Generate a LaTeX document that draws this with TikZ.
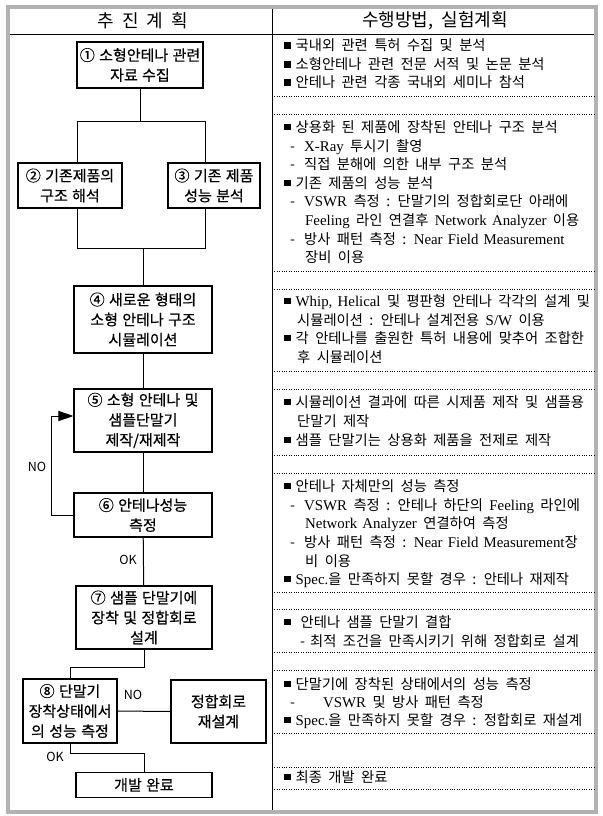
\documentclass[tikz,border=0pt]{standalone}
\usepackage{fontspec}
\setmainfont{Noto Sans CJK KR}[WordSpace=2]
\newfontfamily\boxf{Noto Sans CJK KR}[FakeBold=0.5,WordSpace=1.3]
\newfontfamily\lat{Liberation Serif}[Scale=1.04,WordSpace=1.4]
\usetikzlibrary{arrows.meta}
\newcommand\bul{\rule[2pt]{6.5pt}{6.5pt}\hspace{5pt}}
\newcommand\dsh{-\hspace{9pt}}
\tikzset{
 box/.style={draw, line width=1.1pt, align=center, inner sep=0pt, font=\boxf\fontsize{15}{20}\selectfont},
 conn/.style={line width=1pt},
 rt/.style={anchor=base west, inner sep=0pt, font=\fontsize{14.3}{16}\selectfont},
 lbl/.style={inner sep=0pt, font=\fontsize{12.5}{14}\selectfont},
 sepl/.style={line width=0.6pt, dash pattern=on 0.8pt off 1.6pt},
 hdr/.style={inner sep=0pt, font=\fontsize{18}{20}\selectfont},
}
\begin{document}
\begin{tikzpicture}[x=1pt,y=-1pt]
\useasboundingbox (0,0) rectangle (602,816);
% frame
\draw[line width=4pt, gray!60] (8,7) rectangle (596,812);
\draw[line width=0.8pt] (10,34) -- (594,34);
\draw[line width=0.8pt] (272,9) -- (272,810);
\node[hdr] (h1) at (143,21) {추\hspace{8pt}진\hspace{8pt}계\hspace{8pt}획};
\node[hdr] (h2) at (435,21) {수행방법, 실험계획};

% left flow
\node[box, minimum width=126pt, minimum height=46pt] (n1) at (140,65) {① 소형안테나 관련\\자료 수집};
\node[box, minimum width=104pt, minimum height=45pt] (n2) at (70,185.5) {② 기존제품의\\구조 해석};
\node[box, minimum width=92pt, minimum height=45pt] (n3) at (214,185.5) {③ 기존 제품\\성능 분석};
\node[box, minimum width=138pt, minimum height=67pt] (n4) at (143,319.5) {④ 새로운 형태의\\소형 안테나 구조\\시뮬레이션};
\node[box, minimum width=138pt, minimum height=63pt] (n5) at (143,420.5) {⑤ 소형 안테나 및\\샘플단말기\\제작/재제작};
\node[box, minimum width=138pt, minimum height=44pt] (n6) at (143,515) {⑥ 안테나성능\\측정};
\node[box, minimum width=136pt, minimum height=63pt] (n7) at (144,617.5) {⑦ 샘플 단말기에\\장착 및 정합회로\\설계};
\node[box, minimum width=94pt, minimum height=64pt] (n8) at (70,711) {⑧ 단말기\\장착상태에서\\의 성능 측정};
\node[box, minimum width=95pt, minimum height=63pt] (n9) at (218.5,711.5) {정합회로\\재설계};
\node[box, minimum width=136pt, minimum height=25pt] (n10) at (144,785) {개발 완료};

\coordinate (bL) at (77,121);
\coordinate (bR) at (205,121);
\coordinate (cL) at (77,248);
\coordinate (cR) at (205,248);
\coordinate (lp) at (51,416);
\coordinate (d) at (70,667);
\coordinate (e) at (70,753);

\draw[conn] (n1.south) -- (n1.south |- bL);
\draw[conn] (n2.north -| bL) -- (bL) -- (bR) -- (n3.north -| bR);
\draw[conn] (n2.south -| cL) -- (cL) -- (cR) -- (n3.south -| cR);
\draw[conn] (n4.north) -- (n4.north |- cL);
\draw[conn] (n4) -- (n5);
\draw[conn] (n5) -- (n6);
\draw[conn, -{Triangle[length=15pt,width=10pt]}] (n6.west) -| (lp) -- (lp -| n5.west);
\node[lbl] (no1) at (37,467) {NO};
\draw[conn] (n6) -- (n7);
\node[lbl] (ok1) at (128,560) {OK};
\draw[conn] (n7.south) |- (d) -- (n8.north);
\draw[conn] (n8.east) -- (n9.west);
\node[lbl] (no2) at (133,695) {NO};
\draw[conn] (n8.south) -- (e) -| (n10.north);
\node[lbl] (ok2) at (55,757) {OK};

% right column
\node[rt] (r1) at (284,51) {\bul 국내외 관련 특허 수집 및 분석};
\node[rt] (r2) at (284,70) {\bul 소형안테나 관련 전문 서적 및 논문 분석};
\node[rt] (r3) at (284,88) {\bul 안테나 관련 각종 국내외 세미나 참석};
\draw[sepl] (272,96) -- (594,96);
\draw[sepl] (272,114) -- (594,114);
\node[rt] (r4) at (284,132) {\bul 상용화 된 제품에 장착된 안테나 구조 분석};
\node[rt] (r5) at (290,151) {\dsh{\lat X-Ray} 투시기 촬영};
\node[rt] (r6) at (290,169) {\dsh 직접 분해에 의한 내부 구조 분석};
\node[rt] (r7) at (284,188) {\bul 기존 제품의 성능 분석};
\node[rt] (r8) at (290,206) {\dsh{\lat VSWR} 측정 : 단말기의 정합회로단 아래에};
\node[rt] (r9) at (305,225) {{\lat Feeling} 라인 연결후 {\lat Network Analyzer} 이용};
\node[rt] (r10) at (290,244) {\dsh 방사 패턴 측정 : {\lat Near Field Measurement}};
\node[rt] (r11) at (305,262) {장비 이용};
\draw[sepl] (272,271) -- (594,271);
\draw[sepl] (272,289) -- (594,289);
\node[rt] (r12) at (284,306) {\bul {\lat Whip, Helical} 및 평판형 안테나 각각의 설계 및};
\node[rt] (r13) at (297,325) {시뮬레이션 : 안테나 설계전용 {\lat S/W} 이용};
\node[rt] (r14) at (284,343) {\bul 각 안테나를 출원한 특허 내용에 맞추어 조합한};
\node[rt] (r15) at (297,362) {후 시뮬레이션};
\draw[sepl] (272,371) -- (594,371);
\draw[sepl] (272,389) -- (594,389);
\node[rt] (r16) at (284,407) {\bul 시뮬레이션 결과에 따른 시제품 제작 및 샘플용};
\node[rt] (r17) at (297,426) {단말기 제작};
\node[rt] (r18) at (284,445) {\bul 샘플 단말기는 상용화 제품을 전제로 제작};
\draw[sepl] (272,455) -- (594,455);
\draw[sepl] (272,473) -- (594,473);
\node[rt] (r19) at (284,491) {\bul 안테나 자체만의 성능 측정};
\node[rt] (r20) at (290,510) {\dsh{\lat VSWR} 측정 : 안테나 하단의 {\lat Feeling} 라인에};
\node[rt] (r21) at (305,528) {{\lat Network Analyzer} 연결하여 측정};
\node[rt] (r22) at (290,547) {\dsh 방사 패턴 측정 : {\lat Near Field Measurement}장};
\node[rt] (r23) at (305,566) {비 이용};
\node[rt] (r24) at (284,584) {\bul {\lat Spec.}을 만족하지 못할 경우 : 안테나 재제작};
\draw[sepl] (272,592) -- (594,592);
\draw[sepl] (272,609) -- (594,609);
\node[rt] (r25) at (284,627) {\bul\hspace{5pt}안테나 샘플 단말기 결합};
\node[rt] (r26) at (300,646) {-\hspace{5pt}최적 조건을 만족시키기 위해 정합회로 설계};
\draw[sepl] (272,652) -- (594,652);
\draw[sepl] (272,670) -- (594,670);
\node[rt] (r27) at (284,689) {\bul 단말기에 장착된 상태에서의 성능 측정};
\node[rt] (r28) at (290,707) {-\hspace{28pt}{\lat VSWR} 및 방사 패턴 측정};
\node[rt] (r29) at (284,725) {\bul {\lat Spec.}을 만족하지 못할 경우 : 정합회로 재설계};
\draw[sepl] (272,733) -- (594,733);
\draw[sepl] (272,767) -- (594,767);
\node[rt] (r30) at (284,782) {\bul 최종 개발 완료};
\draw[sepl] (272,789) -- (594,789);
\end{tikzpicture}
\end{document}
